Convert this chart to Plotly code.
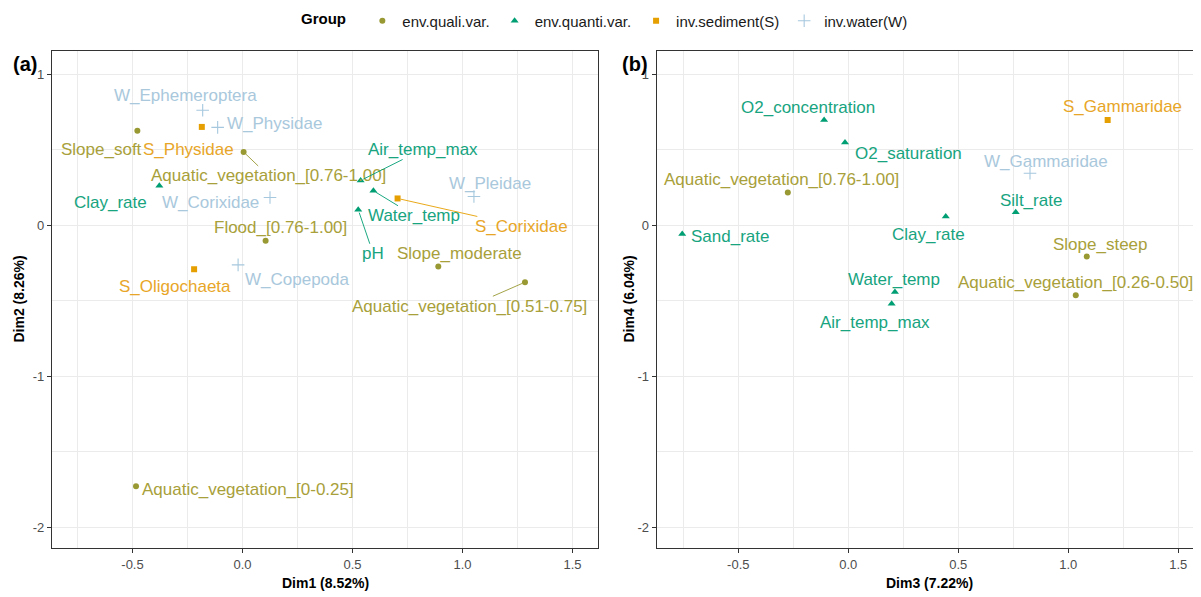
import plotly.graph_objects as go

# ---------------- data ----------------
GROUPS = ["env.quali.var.", "env.quanti.var.", "inv.sediment(S)", "inv.water(W)"]

# Panel (a): Dim1 vs Dim2
A_NAMES = ["W_Ephemeroptera", "S_Physidae", "W_Physidae", "Slope_soft",
           "Aquatic_vegetation_[0.76-1.00]", "Clay_rate", "W_Corixidae",
           "Flood_[0.76-1.00]", "S_Oligochaeta", "W_Copepoda", "Air_temp_max",
           "Water_temp", "pH", "S_Corixidae", "W_Pleidae", "Slope_moderate",
           "Aquatic_vegetation_[0.51-0.75]", "Aquatic_vegetation_[0-0.25]"]
A_DIM1 = [-0.181, -0.185, -0.113, -0.478, 0.005, -0.378, 0.125, 0.105, -0.220,
          -0.020, 0.537, 0.595, 0.526, 0.705, 1.052, 0.890, 1.284, -0.484]
A_DIM2 = [0.762, 0.652, 0.649, 0.627, 0.486, 0.262, 0.184, -0.103, -0.291,
          -0.262, 0.297, 0.229, 0.103, 0.178, 0.191, -0.273, -0.377, -1.729]
A_GROUP = ["inv.water(W)", "inv.sediment(S)", "inv.water(W)", "env.quali.var.",
           "env.quali.var.", "env.quanti.var.", "inv.water(W)", "env.quali.var.",
           "inv.sediment(S)", "inv.water(W)", "env.quanti.var.", "env.quanti.var.",
           "env.quanti.var.", "inv.sediment(S)", "inv.water(W)", "env.quali.var.",
           "env.quali.var.", "env.quali.var."]

# Panel (b): Dim3 vs Dim4
B_NAMES = ["O2_concentration", "O2_saturation", "Aquatic_vegetation_[0.76-1.00]",
           "Sand_rate", "Water_temp", "Air_temp_max", "Clay_rate", "Silt_rate",
           "W_Gammaridae", "S_Gammaridae", "Slope_steep",
           "Aquatic_vegetation_[0.26-0.50]"]
B_DIM3 = [-0.110, -0.015, -0.275, -0.755, 0.212, 0.197, 0.443, 0.761, 0.826,
          1.179, 1.084, 1.034]
B_DIM4 = [0.698, 0.548, 0.217, -0.057, -0.441, -0.520, 0.058, 0.087, 0.345,
          0.698, -0.207, -0.463]
B_GROUP = ["env.quanti.var.", "env.quanti.var.", "env.quali.var.", "env.quanti.var.",
           "env.quanti.var.", "env.quanti.var.", "env.quanti.var.", "env.quanti.var.",
           "inv.water(W)", "inv.sediment(S)", "env.quali.var.", "env.quali.var."]

X_TICKS = [-0.5, 0.0, 0.5, 1.0, 1.5]
X_TICK_TEXT = ["-0.5", "0.0", "0.5", "1.0", "1.5"]
Y_TICKS = [-2, -1, 0, 1]
Y_TICK_TEXT = ["-2", "-1", "0", "1"]

# ---------------- style ----------------
FONT = "Liberation Sans, Arial, sans-serif"
COLORS = {"env.quali.var.": "#999933", "env.quanti.var.": "#009E73",
          "inv.sediment(S)": "#E69F00", "inv.water(W)": "#A6C8DE"}
TEXT_COLORS = {"env.quali.var.": "#A8A03A", "env.quanti.var.": "#17A47F",
               "inv.sediment(S)": "#E8A628", "inv.water(W)": "#A9C8DC"}
SYMBOLS = {"env.quali.var.": "circle", "env.quanti.var.": "triangle-up",
           "inv.sediment(S)": "square", "inv.water(W)": "cross-thin"}
SIZES = {"env.quali.var.": 6, "env.quanti.var.": 7,
         "inv.sediment(S)": 6, "inv.water(W)": 9}

# label offsets in pixels (dx right, dy down, draw segment)
A_OFFSETS = [(-17, -15, False), (-13, 23, False), (57, -4, False), (-36, 19, False),
             (25, 24, True), (-49, 17, False), (-60, 5, False), (15, -13, False),
             (-19, 17, False), (59, 15, False), (62, -31, True), (41, 25, True),
             (15, 44, True), (124, 28, True), (16, -13, False), (21, -13, False),
             (-55, 24, True), (112, 3, False)]
B_OFFSETS = [(-16, -12, False), (63, 11, False), (-6, -13, False), (48, 3, False),
             (-1, -12, False), (-17, 19, False), (-17, 18, False), (15, -12, False),
             (16, -12, False), (15, -13, False), (14, -12, False), (0, -13, False)]

# page layout (page pixels; the page body adds an 8px offset)
OFF = 8
W, H = 1201, 597
PLOT_L, PLOT_T, PLOT_B = 52, 51, 548     # page pixel bounds of panels
A_RIGHT, B_LEFT, B_RIGHT = 598, 656.7, 1203.8
ML = PLOT_L - OFF
MT = PLOT_T - OFF
MB = H - (PLOT_B - OFF)
MR = 0
PW = W - ML - MR
PH = H - MT - MB

def paper_x(px):
    return (px - OFF - ML) / PW

def paper_y(py):
    return (H - MB - (py - OFF)) / PH

fig = go.Figure()

def add_panel(names, xs, ys, groups, offsets, xa, ya, legend):
    for g in GROUPS:
        idx = [i for i, gg in enumerate(groups) if gg == g]
        marker = dict(color=COLORS[g], symbol=SYMBOLS[g], size=SIZES[g])
        if g == "inv.water(W)":
            marker["line"] = dict(color=COLORS[g], width=1.1)
        else:
            marker["line"] = dict(width=0)
        fig.add_trace(go.Scatter(
            x=[xs[i] for i in idx], y=[ys[i] for i in idx], mode="markers",
            marker=marker, name=g, legendgroup=g, showlegend=legend,
            xaxis=xa, yaxis=ya, hovertext=[names[i] for i in idx]))
    for i, n in enumerate(names):
        dx, dy, seg = offsets[i]
        g = groups[i]
        fig.add_annotation(
            x=xs[i], y=ys[i], xref=xa, yref=ya, text=n,
            showarrow=True, ax=dx, ay=dy, axref="pixel", ayref="pixel",
            arrowhead=0, arrowwidth=0.9, standoff=3,
            arrowcolor=COLORS[g] if seg else "rgba(0,0,0,0)",
            font=dict(family=FONT, size=17, color=TEXT_COLORS[g]), borderpad=0)

add_panel(A_NAMES, A_DIM1, A_DIM2, A_GROUP, A_OFFSETS, "x", "y", True)
add_panel(B_NAMES, B_DIM3, B_DIM4, B_GROUP, B_OFFSETS, "x2", "y2", False)

axis_common = dict(
    showline=True, linecolor="#333333", linewidth=1.2, mirror=True,
    ticks="outside", ticklen=4, tickcolor="#333333", tickwidth=1,
    showgrid=True, gridcolor="#EBEBEB", gridwidth=1, zeroline=False,
    tickfont=dict(family=FONT, size=13, color="#4D4D4D"),
)
minor_x = dict(dtick=0.25, tick0=0, showgrid=True, gridcolor="#EBEBEB", gridwidth=0.6)
minor_y = dict(dtick=0.5, tick0=0, showgrid=True, gridcolor="#EBEBEB", gridwidth=0.6)

fig.update_layout(
    xaxis=dict(domain=[0, paper_x(A_RIGHT)], range=[-0.866, 1.616], tickvals=X_TICKS,
               ticktext=X_TICK_TEXT, anchor="y", minor=minor_x, **axis_common),
    yaxis=dict(domain=[0, 1], range=[-2.138, 1.155], tickvals=Y_TICKS,
               ticktext=Y_TICK_TEXT, anchor="x", minor=minor_y, **axis_common),
    xaxis2=dict(domain=[paper_x(B_LEFT), paper_x(B_RIGHT)], range=[-0.871, 1.616],
                tickvals=X_TICKS, ticktext=X_TICK_TEXT, anchor="y2", minor=minor_x,
                **axis_common),
    yaxis2=dict(domain=[0, 1], range=[-2.138, 1.155], tickvals=Y_TICKS,
                ticktext=Y_TICK_TEXT, anchor="x2", minor=minor_y, **axis_common),
)

fig.update_layout(
    width=W, height=H,
    margin=dict(l=ML, r=MR, t=MT, b=MB, autoexpand=False),
    paper_bgcolor="white", plot_bgcolor="white",
    font=dict(family=FONT, size=14, color="#1A1A1A"),
    showlegend=True,
    legend=dict(orientation="h", xref="container", yref="container",
                x=(606 - OFF) / W, xanchor="center", y=1 - (21 - OFF) / H, yanchor="middle",
                title=dict(text="<b>Group</b>  ", side="left",
                           font=dict(family=FONT, size=15, color="#000000")),
                font=dict(family=FONT, size=15, color="#1A1A1A"),
                itemwidth=30, bgcolor="rgba(0,0,0,0)"),
)

# axis titles
for txt, px, py, ang in [("Dim1 (8.52%)", 325, 583, 0), ("Dim3 (7.22%)", 929, 583, 0),
                         ("Dim2 (8.26%)", 18, 299.5, -90), ("Dim4 (6.04%)", 628, 299.5, -90)]:
    fig.add_annotation(x=paper_x(px), y=paper_y(py), xref="paper", yref="paper",
                       text="<b>" + txt + "</b>", showarrow=False, textangle=ang,
                       xanchor="center", yanchor="middle",
                       font=dict(family=FONT, size=14, color="#000000"))

# panel tags
for txt, px in [("(a)", 25), ("(b)", 635)]:
    fig.add_annotation(x=paper_x(px), y=paper_y(64), xref="paper", yref="paper",
                       text="<b>" + txt + "</b>", showarrow=False,
                       xanchor="center", yanchor="middle",
                       font=dict(family=FONT, size=20, color="#000000"))

fig.write_html("out.html")
